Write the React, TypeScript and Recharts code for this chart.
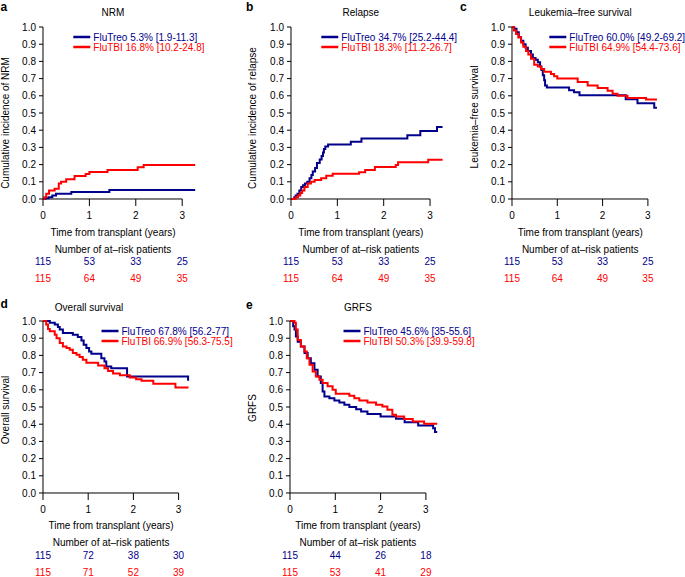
import React from "react";
import { LineChart, Line, XAxis, YAxis, ReferenceLine } from "recharts";

type Pt = [number, number];

const BLUE = "#00008B";
const RED = "#FF0000";
const FONT = '"Liberation Sans", Arial, Helvetica, sans-serif';

const timeTicks = [0, 1, 2, 3];
const probTicks = [0, 0.1, 0.2, 0.3, 0.4, 0.5, 0.6, 0.7, 0.8, 0.9, 1.0];

// a: NRM
const nrmTreo: Pt[] = [
  [0, 0], [0.05, 0.005], [0.12, 0.01], [0.2, 0.02], [0.28, 0.03], [0.61, 0.04], [1.43, 0.053], [3.28, 0.053],
];
const nrmTbi: Pt[] = [
  [0, 0], [0.03, 0.01], [0.07, 0.03], [0.13, 0.05], [0.25, 0.06], [0.34, 0.09], [0.39, 0.1], [0.5, 0.115],
  [0.68, 0.133], [0.92, 0.145], [1.0, 0.157], [1.39, 0.168], [2.04, 0.184], [2.17, 0.197], [3.28, 0.197],
];

// b: relapse
const relTreo: Pt[] = [
  [0, 0], [0.07, 0.01], [0.1, 0.02], [0.14, 0.03], [0.18, 0.05], [0.22, 0.07], [0.26, 0.08], [0.3, 0.09],
  [0.35, 0.1], [0.4, 0.12], [0.44, 0.14], [0.47, 0.16], [0.52, 0.18], [0.56, 0.21], [0.62, 0.23],
  [0.66, 0.25], [0.69, 0.27], [0.71, 0.29], [0.74, 0.305], [0.8, 0.317], [1.29, 0.333], [1.52, 0.352],
  [2.51, 0.371], [2.79, 0.395], [3.15, 0.418], [3.27, 0.418],
];
const relTbi: Pt[] = [
  [0, 0], [0.1, 0.01], [0.15, 0.02], [0.2, 0.035], [0.24, 0.05], [0.29, 0.07], [0.36, 0.09], [0.43, 0.1],
  [0.51, 0.11], [0.65, 0.12], [0.76, 0.135], [0.9, 0.147], [1.47, 0.155], [1.6, 0.168], [1.81, 0.186],
  [2.26, 0.197], [2.31, 0.213], [2.96, 0.228], [3.27, 0.228],
];

// c: leukemia-free survival
const lfsTreo: Pt[] = [
  [0, 1], [0.05, 0.99], [0.1, 0.97], [0.15, 0.94], [0.2, 0.92], [0.25, 0.9], [0.3, 0.88], [0.35, 0.86],
  [0.42, 0.84], [0.46, 0.82], [0.52, 0.81], [0.57, 0.795], [0.62, 0.77], [0.65, 0.75], [0.68, 0.72],
  [0.71, 0.69], [0.73, 0.66], [0.77, 0.648], [1.26, 0.632], [1.37, 0.62], [1.49, 0.603], [2.51, 0.58],
  [2.77, 0.557], [3.14, 0.53], [3.2, 0.53],
];
const lfsTbi: Pt[] = [
  [0, 1], [0.04, 0.98], [0.09, 0.96], [0.14, 0.94], [0.2, 0.91], [0.25, 0.885], [0.31, 0.86], [0.36, 0.84],
  [0.42, 0.815], [0.49, 0.78], [0.57, 0.77], [0.64, 0.756], [0.71, 0.74], [0.86, 0.727], [0.93, 0.714],
  [1.0, 0.7], [1.45, 0.68], [1.67, 0.66], [1.89, 0.645], [2.11, 0.63], [2.22, 0.612], [2.33, 0.6],
  [2.55, 0.587], [2.96, 0.578], [3.2, 0.578],
];

// d: overall survival
const osTreo: Pt[] = [
  [0, 1], [0.15, 0.99], [0.26, 0.98], [0.33, 0.965], [0.37, 0.95], [0.44, 0.93], [0.66, 0.92], [0.77, 0.907],
  [0.85, 0.887], [0.9, 0.862], [0.96, 0.843], [1.02, 0.823], [1.07, 0.81], [1.29, 0.784], [1.36, 0.765],
  [1.4, 0.736], [1.51, 0.726], [1.86, 0.677], [3.21, 0.653],
];
const osTbi: Pt[] = [
  [0, 1], [0.07, 0.98], [0.11, 0.953], [0.15, 0.94], [0.26, 0.92], [0.3, 0.9], [0.37, 0.872], [0.44, 0.852],
  [0.52, 0.843], [0.59, 0.833], [0.66, 0.814], [0.74, 0.804], [0.81, 0.79], [0.88, 0.775], [0.96, 0.757],
  [1.22, 0.742], [1.36, 0.726], [1.44, 0.71], [1.55, 0.695], [1.7, 0.685], [1.92, 0.672], [2.06, 0.662],
  [2.18, 0.652], [2.44, 0.635], [2.93, 0.613], [3.22, 0.613],
];

// e: GRFS
const grfsTreo: Pt[] = [
  [0, 1], [0.07, 0.97], [0.1, 0.95], [0.13, 0.91], [0.17, 0.88], [0.24, 0.852], [0.32, 0.814], [0.39, 0.784],
  [0.46, 0.755], [0.54, 0.717], [0.61, 0.677], [0.68, 0.64], [0.72, 0.59], [0.76, 0.561], [0.87, 0.551],
  [0.98, 0.538], [1.09, 0.526], [1.2, 0.513], [1.31, 0.5], [1.46, 0.487], [1.57, 0.474], [1.71, 0.46],
  [2.0, 0.445], [2.34, 0.432], [2.53, 0.412], [2.83, 0.392], [3.16, 0.377], [3.2, 0.355], [3.25, 0.355],
];
const grfsTbi: Pt[] = [
  [0, 1], [0.1, 0.99], [0.13, 0.95], [0.17, 0.89], [0.24, 0.852], [0.32, 0.823], [0.37, 0.784], [0.43, 0.745],
  [0.5, 0.707], [0.57, 0.677], [0.65, 0.658], [0.72, 0.64], [0.83, 0.62], [0.94, 0.6], [1.01, 0.577],
  [1.31, 0.565], [1.42, 0.551], [1.53, 0.538], [1.71, 0.526], [1.9, 0.513], [2.04, 0.503], [2.15, 0.484],
  [2.26, 0.455], [2.34, 0.445], [2.52, 0.43], [2.71, 0.415], [2.96, 0.402], [3.25, 0.402],
];

// number at risk at 0, 1, 2, 3 years
const riskTreoABC = [115, 53, 33, 25];
const riskTbiABC = [115, 64, 49, 35];
const riskTreoD = [115, 72, 38, 30];
const riskTbiD = [115, 71, 52, 39];
const riskTreoE = [115, 44, 26, 18];
const riskTbiE = [115, 53, 41, 29];

type PanelProps = {
  letter: string;
  letterX: number;
  letterY: number;
  title: string;
  titleX?: number;
  titleY: number;
  yLabel: string;
  yLabelX: number;
  yLabelY: number;
  x0: number;
  plotTop: number;
  pxPerYear: number;
  treo: Pt[];
  tbi: Pt[];
  treoText: string;
  tbiText: string;
  legendX: number;
  legendY: number;
  riskTreo: number[];
  riskTbi: number[];
};

const PLOT_H = 172;
const Y_AXIS_W = 40;
const PAD_TOP = 8;
const X_AXIS_H = 92;
const X_MAX = 3.3;

function Panel(p: PanelProps) {
  const plotW = X_MAX * p.pxPerYear;
  const width = Y_AXIS_W + plotW + 6;
  const height = PAD_TOP + PLOT_H + X_AXIS_H;
  const treo = p.treo.map(([t, v]) => ({ t, v }));
  const tbi = p.tbi.map(([t, v]) => ({ t, v }));
  const axisY = p.plotTop + PLOT_H;
  const midX = p.x0 + 1.5 * p.pxPerYear;

  const renderTick = (props: any) => {
    const { x, y, payload, index } = props;
    const ay = y - 7;
    return (
      <g fontFamily={FONT} fontSize={10} textAnchor="middle">
        <text x={x} y={ay + 20.5} fill="#000">{payload.value}</text>
        <text x={x} y={ay + 66.5} fill={BLUE}>{p.riskTreo[index]}</text>
        <text x={x} y={ay + 83.5} fill={RED}>{p.riskTbi[index]}</text>
      </g>
    );
  };

  return (
    <>
      <div style={{ position: "absolute", left: p.x0 - Y_AXIS_W, top: p.plotTop - PAD_TOP }}>
        <LineChart width={width} height={height} margin={{ top: PAD_TOP, right: 6, bottom: 0, left: 0 }}>
          <XAxis
            type="number"
            dataKey="t"
            domain={[0, X_MAX]}
            ticks={timeTicks}
            interval={0}
            axisLine={false}
            tickSize={7}
            tickMargin={0}
            tickLine={{ stroke: "#000" }}
            height={X_AXIS_H}
            tick={renderTick}
            allowDataOverflow
          />
          <YAxis
            type="number"
            domain={[0, 1]}
            ticks={probTicks}
            interval={0}
            width={Y_AXIS_W}
            tickSize={4}
            tickMargin={3}
            tickFormatter={(v: number) => v.toFixed(1)}
            axisLine={{ stroke: "#000" }}
            tickLine={{ stroke: "#000" }}
            tick={{ fill: "#000", fontSize: 10, fontFamily: FONT }}
          />
          <ReferenceLine segment={[{ x: 0, y: 0 }, { x: 3, y: 0 }]} stroke="#000" />
          <Line data={treo} dataKey="v" type="stepAfter" stroke={BLUE} strokeWidth={2} dot={false} isAnimationActive={false} />
          <Line data={tbi} dataKey="v" type="stepAfter" stroke={RED} strokeWidth={2} dot={false} isAnimationActive={false} />
        </LineChart>
      </div>
      <svg
        width={685}
        height={577}
        style={{ position: "absolute", left: 0, top: 0, pointerEvents: "none", overflow: "visible" }}
        fontFamily={FONT}
        fontSize={10}
      >
        <text x={p.letterX} y={p.letterY} fontWeight="bold" fontSize={12} dominantBaseline="central">{p.letter}</text>
        <text x={p.titleX ?? midX} y={p.titleY} textAnchor="middle" dominantBaseline="central">{p.title}</text>
        <text
          x={p.yLabelX}
          y={p.yLabelY}
          textAnchor="middle"
          dominantBaseline="central"
          transform={`rotate(-90 ${p.yLabelX} ${p.yLabelY})`}
        >
          {p.yLabel}
        </text>
        <line x1={p.legendX} x2={p.legendX + 17} y1={p.legendY} y2={p.legendY} stroke={BLUE} strokeWidth={2.5} />
        <line x1={p.legendX} x2={p.legendX + 17} y1={p.legendY + 10} y2={p.legendY + 10} stroke={RED} strokeWidth={2.5} />
        <text x={p.legendX + 20} y={p.legendY} fill={BLUE} dominantBaseline="central">{p.treoText}</text>
        <text x={p.legendX + 20} y={p.legendY + 10} fill={RED} dominantBaseline="central">{p.tbiText}</text>
        <text x={midX} y={axisY + 33.4} textAnchor="middle" dominantBaseline="central">Time from transplant (years)</text>
        <text x={midX} y={axisY + 50} textAnchor="middle" dominantBaseline="central">Number of at–risk patients</text>
      </svg>
    </>
  );
}

export default function App() {
  return (
    <div
      style={{
        position: "fixed",
        left: 0,
        top: 0,
        width: 685,
        height: 577,
        overflow: "hidden",
        background: "#fff",
        fontFamily: FONT,
      }}
    >
      <Panel
        letter="a" letterX={0.5} letterY={6.5} title="NRM" titleY={12.5}
        yLabel="Cumulative incidence of NRM" yLabelX={5.5} yLabelY={123}
        x0={43.4} plotTop={27} pxPerYear={46.4}
        treo={nrmTreo} tbi={nrmTbi}
        treoText="FluTreo 5.3% [1.9-11.3]" tbiText="FluTBI 16.8% [10.2-24.8]"
        legendX={73.3} legendY={37}
        riskTreo={riskTreoABC} riskTbi={riskTbiABC}
      />
      <Panel
        letter="b" letterX={246} letterY={7} title="Relapse" titleY={12.5}
        yLabel="Cumulative incidence of relapse" yLabelX={252} yLabelY={118}
        x0={291.3} plotTop={27} pxPerYear={46.35}
        treo={relTreo} tbi={relTbi}
        treoText="FluTreo 34.7% [25.2-44.4]" tbiText="FluTBI 18.3% [11.2-26.7]"
        legendX={321.3} legendY={37}
        riskTreo={riskTreoABC} riskTbi={riskTbiABC}
      />
      <Panel
        letter="c" letterX={460} letterY={7} title="Leukemia–free survival" titleY={12.5}
        yLabel="Leukemia–free survival" yLabelX={474.5} yLabelY={117}
        x0={512.3} plotTop={27} pxPerYear={45.3}
        treo={lfsTreo} tbi={lfsTbi}
        treoText="FluTreo 60.0% [49.2-69.2]" tbiText="FluTBI 64.9% [54.4-73.6]"
        legendX={549.3} legendY={37}
        riskTreo={riskTreoABC} riskTbi={riskTbiABC}
      />
      <Panel
        letter="d" letterX={0.5} letterY={304} title="Overall survival" titleX={89} titleY={307.5}
        yLabel="Overall survival" yLabelX={5.5} yLabelY={410}
        x0={43.3} plotTop={320.5} pxPerYear={45.2}
        treo={osTreo} tbi={osTbi}
        treoText="FluTreo 67.8% [56.2-77]" tbiText="FluTBI 66.9% [56.3-75.5]"
        legendX={101.5} legendY={331}
        riskTreo={riskTreoD} riskTbi={riskTbiD}
      />
      <Panel
        letter="e" letterX={246} letterY={305} title="GRFS" titleY={307}
        yLabel="GRFS" yLabelX={252} yLabelY={408}
        x0={290} plotTop={320.5} pxPerYear={45.3}
        treo={grfsTreo} tbi={grfsTbi}
        treoText="FluTreo 45.6% [35-55.6]" tbiText="FluTBI 50.3% [39.9-59.8]"
        legendX={343.5} legendY={331}
        riskTreo={riskTreoE} riskTbi={riskTbiE}
      />
    </div>
  );
}
